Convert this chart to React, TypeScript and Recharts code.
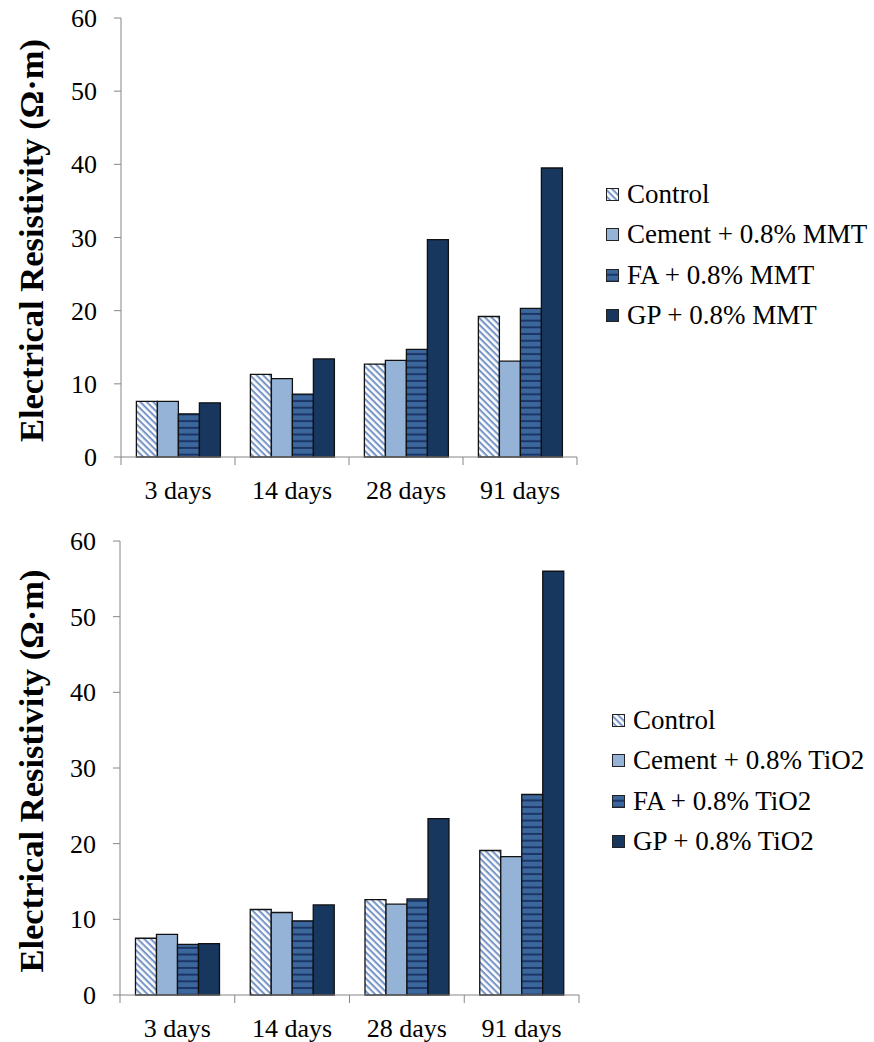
import React from "react";
import { BarChart, Bar, XAxis, YAxis, Legend } from "recharts";

const categories = ["3 days", "14 days", "28 days", "91 days"];
const yTicks = [0, 10, 20, 30, 40, 50, 60];

// top panel: MMT
const mmtNames = ["Control", "Cement + 0.8% MMT", "FA + 0.8% MMT", "GP + 0.8% MMT"];
const mmtControl = [7.6, 11.3, 12.7, 19.2];
const mmtCement = [7.6, 10.7, 13.2, 13.1];
const mmtFA = [5.9, 8.6, 14.7, 20.3];
const mmtGP = [7.4, 13.4, 29.7, 39.5];

// bottom panel: TiO2
const tio2Names = ["Control", "Cement + 0.8% TiO2", "FA + 0.8% TiO2", "GP + 0.8% TiO2"];
const tio2Control = [7.5, 11.3, 12.6, 19.1];
const tio2Cement = [8.0, 10.9, 12.0, 18.3];
const tio2FA = [6.7, 9.8, 12.7, 26.5];
const tio2GP = [6.8, 11.9, 23.3, 56.0];

const FONT = "Liberation Serif";
const AXIS = "#868686";
const BOX = "#404040";

const buildRows = (series: number[][]) =>
  categories.map((day, i) => ({
    day,
    s0: series[0][i],
    s1: series[1][i],
    s2: series[2][i],
    s3: series[3][i],
  }));

const DayTick = ({ x, y, payload, half }: any) => {
  const last = payload.value === categories[categories.length - 1];
  return (
    <g>
      <line x1={x - half} y1={y - 8} x2={x - half} y2={y} stroke={AXIS} />
      {last && <line x1={x + half} y1={y - 8} x2={x + half} y2={y} stroke={AXIS} />}
      <text x={x} y={y + 34} textAnchor="middle" fontSize={26} style={{ fontFamily: FONT }} fill="#000">
        {payload.value}
      </text>
    </g>
  );
};

const ValueTick = ({ x, y, payload }: any) => (
  <text x={x} y={y} dy={9} textAnchor="end" fontSize={26} style={{ fontFamily: FONT }} fill="#000">
    {payload.value}
  </text>
);

const LegendList = ({ names, fills }: { names: string[]; fills: string[] }) => (
  <div style={{ fontFamily: FONT, fontSize: 27, color: "#000" }}>
    {names.map((name, i) => (
      <div key={name} style={{ height: 40.5, display: "flex", alignItems: "center", whiteSpace: "nowrap" }}>
        <svg width={13} height={13} style={{ marginRight: 8 }}>
          <rect x={0.5} y={0.5} width={12} height={12} fill={fills[i]} stroke="#222" />
        </svg>
        {name}
      </div>
    ))}
  </div>
);

interface PanelProps {
  id: string;
  top: number;
  height: number;
  names: string[];
  series: number[][];
  margin: { top: number; right: number; left: number; bottom: number };
  axisWidth: number;
  legendLeft: number;
  legendTop: number;
}

const Panel: React.FC<PanelProps> = ({ id, top, height, names, series, margin, axisWidth, legendLeft, legendTop }) => {
  const width = 874;
  const rows = buildRows(series);
  const plotW = width - margin.left - margin.right - axisWidth;
  const half = plotW / categories.length / 2;
  const fills = [`url(#${id}-ctrl)`, "#95b3d7", `url(#${id}-fa)`, "#17375e"];

  return (
    <div style={{ position: "absolute", left: 0, top }}>
      <BarChart width={width} height={height} data={rows} margin={margin} barCategoryGap="13.5%" barGap={0}>
        <defs>
          <pattern id={`${id}-ctrl`} patternUnits="userSpaceOnUse" width={4.6} height={4.6} patternTransform="rotate(45)">
            <rect width={4.6} height={4.6} fill="#ffffff" />
            <rect width={4.6} height={2.1} fill="#7896c8" />
          </pattern>
          <pattern id={`${id}-fa`} patternUnits="userSpaceOnUse" width={10} height={6.7}>
            <rect width={10} height={6.7} fill="#3c679c" />
            <rect y={4.7} width={10} height={2} fill="#1b3566" />
          </pattern>
        </defs>
        <XAxis
          dataKey="day"
          height={40}
          axisLine={{ stroke: AXIS }}
          tickLine={false}
          tickSize={8}
          tickMargin={0}
          interval={0}
          tick={(p: any) => <DayTick {...p} half={half} />}
        />
        <XAxis xAxisId="top" dataKey="day" orientation="top" height={0} tick={false} tickLine={false} axisLine={{ stroke: BOX }} />
        <YAxis
          width={axisWidth}
          domain={[0, 60]}
          ticks={yTicks}
          interval={0}
          axisLine={{ stroke: AXIS }}
          tickLine={{ stroke: AXIS }}
          tickSize={7}
          tickMargin={17}
          tick={(p: any) => <ValueTick {...p} />}
          label={{
            content: (lp: any) => {
              const vb = lp.viewBox || {};
              const cy = vb.y + vb.height / 2 + 3;
              return (
                <text
                  x={43}
                  y={cy}
                  transform={`rotate(-90, 43, ${cy})`}
                  textAnchor="middle"
                  fontSize={34.5}
                  fontWeight="bold"
                  style={{ fontFamily: FONT }}
                  fill="#000"
                >
                  Electrical Resistivity (Ω·m)
                </text>
              );
            },
          }}
        />
        <YAxis yAxisId="right" orientation="right" width={0} domain={[0, 60]} tick={false} tickLine={false} axisLine={{ stroke: BOX }} />
        {names.map((name, i) => (
          <Bar
            key={name}
            dataKey={`s${i}`}
            name={name}
            fill={fills[i]}
            stroke="#111"
            strokeWidth={1.3}
            isAnimationActive={false}
          />
        ))}
        <Legend
          layout="vertical"
          align="center"
          verticalAlign="middle"
          wrapperStyle={{ left: legendLeft, top: legendTop, width: 268 }}
          content={() => <LegendList names={names} fills={fills} />}
        />
      </BarChart>
    </div>
  );
};

export default function App() {
  return (
    <div style={{ position: "absolute", left: 0, top: 0, width: 874, height: 1042, background: "#fff", fontFamily: FONT }}>
      <Panel
        id="mmt"
        top={0}
        height={520}
        names={mmtNames}
        series={[mmtControl, mmtCement, mmtFA, mmtGP]}
        margin={{ top: 18, right: 297, left: 0, bottom: 23 }}
        axisWidth={121}
        legendLeft={606}
        legendTop={174}
      />
      <Panel
        id="tio2"
        top={520}
        height={522}
        names={tio2Names}
        series={[tio2Control, tio2Cement, tio2FA, tio2GP]}
        margin={{ top: 21, right: 295, left: 0, bottom: 7 }}
        axisWidth={120}
        legendLeft={612}
        legendTop={180}
      />
    </div>
  );
}
